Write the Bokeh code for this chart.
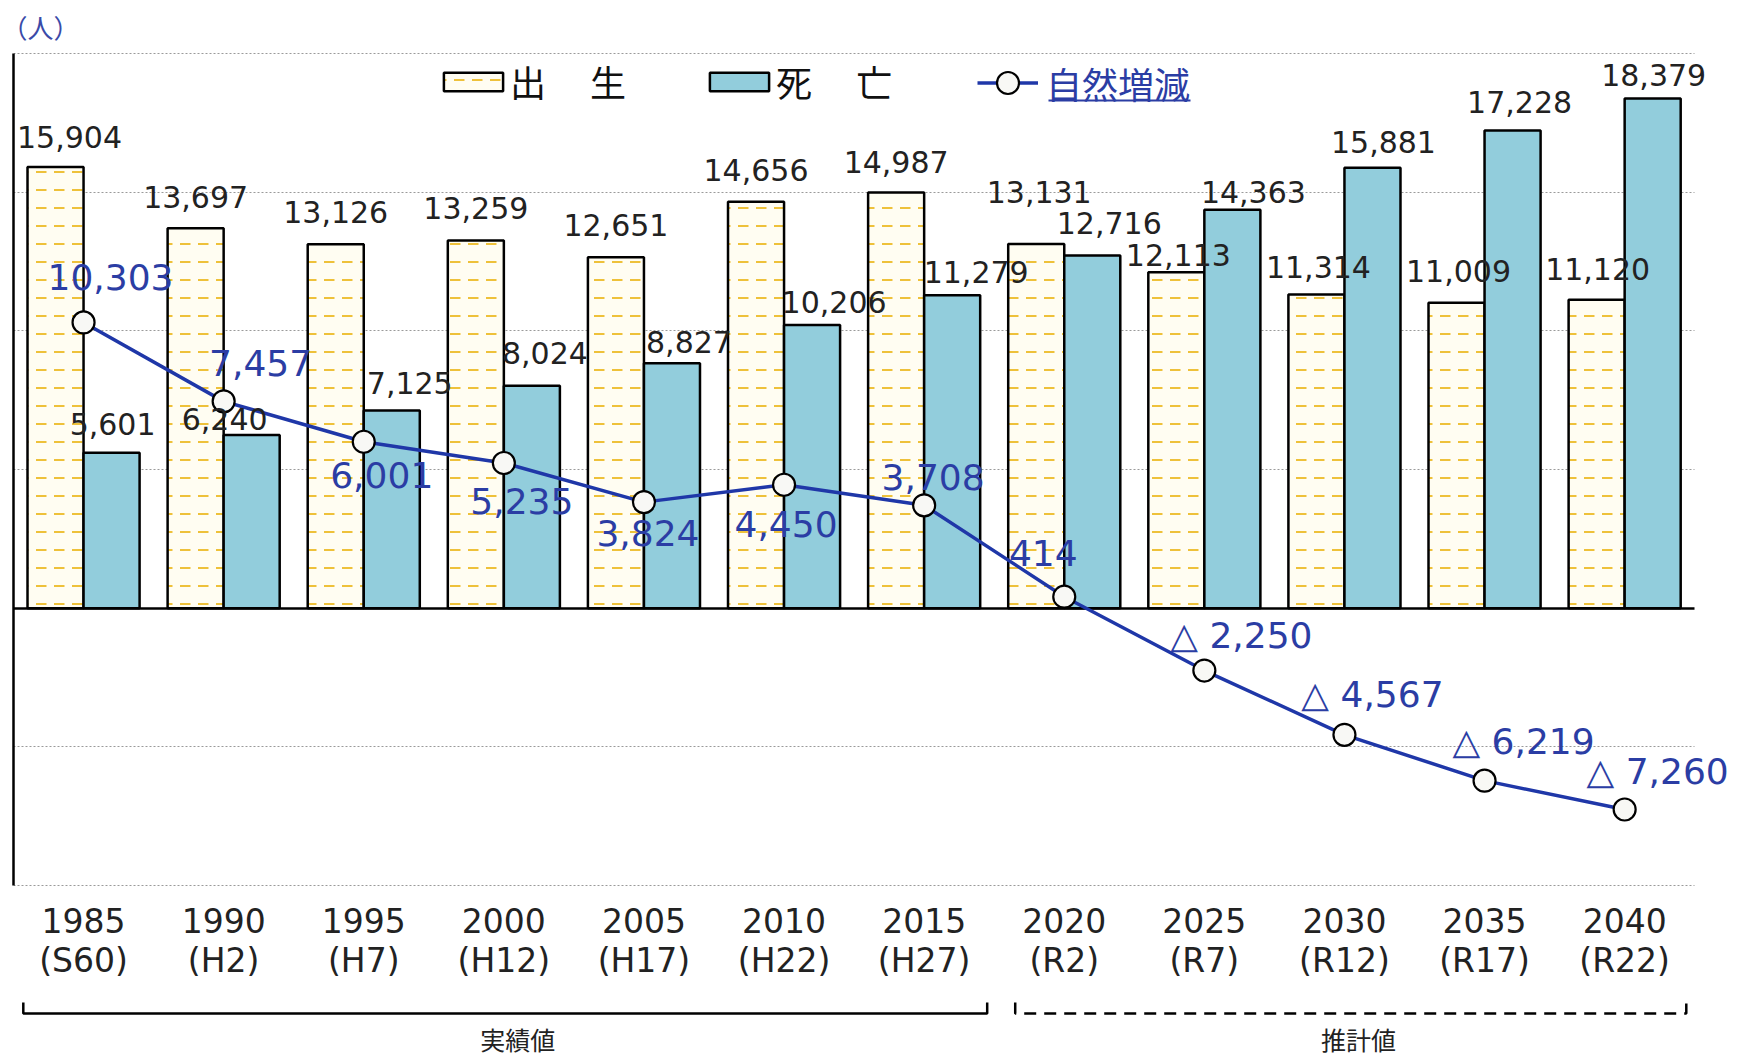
from bokeh.plotting import figure
from bokeh.layouts import column
from bokeh.models import (Range1d, ColumnDataSource, LabelSet, Legend, LegendItem,
                          FixedTicker, Grid, BoxAnnotation)
from bokeh.core.properties import value
from bokeh.embed import file_html
from bokeh.resources import INLINE

# ---------------- data ----------------
years = ["1985", "1990", "1995", "2000", "2005", "2010", "2015",
         "2020", "2025", "2030", "2035", "2040"]
eras = ["S60", "H2", "H7", "H12", "H17", "H22", "H27",
        "R2", "R7", "R12", "R17", "R22"]
birth = [15904, 13697, 13126, 13259, 12651, 14656, 14987,
         13131, 12113, 11314, 11009, 11120]
death = [5601, 6240, 7125, 8024, 8827, 10206, 11279,
         12716, 14363, 15881, 17228, 18379]
natural = [10303, 7457, 6001, 5235, 3824, 4450, 3708,
           414, -2250, -4567, -6219, -7260]
grid_ticks = [-10000, -5000, 5000, 10000, 15000, 20000]
n_actual = 7  # 1985-2015 actual values, 2020-2040 estimates

# label placement (pixels)
birth_dx = [14, 0, 0, 0, 0, 0, 0, 3, 2, 2, 2, 1]
birth_dy = [30, 31, 32, 32, 32, 32, 31, 52, 17, 27, 32, 31]
death_dx = [1, -27, 18, 13, 17, 22, 24, 17, 21, 11, 7, 1]
death_dy = [29, 16, 28, 33, 21, 23, 23, 33, 18, 26, 28, 23]
nat_dx = [27, 37, 18, 18, 4, 2, 9, -21, 37, 28, 39, 33]
nat_dy = [45, 38, -33, -38, -31, -39, 28, 44, 35, 40, 39, 38]

xs = list(range(len(years)))
tick_labels = {i: f"{y}\n({e})" for i, (y, e) in enumerate(zip(years, eras))}

def fmt_nat(v):
    return f"△ {abs(v):,}" if v < 0 else f"{v:,}"

BAR_W = 0.4
src = ColumnDataSource(dict(
    x=xs, xb=[i - BAR_W / 2 for i in xs], xd=[i + BAR_W / 2 for i in xs],
    birth=birth, death=death, natural=natural,
    btxt=[f"{v:,}" for v in birth], dtxt=[f"{v:,}" for v in death],
    ntxt=[fmt_nat(v) for v in natural],
    bdx=birth_dx, bdy=birth_dy, ddx=death_dx, ddy=death_dy, ndx=nat_dx, ndy=nat_dy,
))

BLUE_LINE = "#1f37a8"
BLUE_TXT = "#2b3da4"
NUM_FONT = "DejaVu Sans"
JP_FONT = "Noto Sans CJK JP"

# geometry: one category = 140.1 px, frame starts at the left axis
CAT_PX = 140.1
FRAME_W = 1726
FRAME_H = 838
x_end = -0.5 + FRAME_W / CAT_PX
y_pad = 30000 / 832 * 3

p = figure(x_range=Range1d(-0.5, x_end), y_range=Range1d(-10000 - y_pad, 20000 + y_pad),
           frame_width=FRAME_W, frame_height=FRAME_H,
           min_border_left=13, min_border_right=0, min_border_top=50, min_border_bottom=107,
           output_backend="svg", toolbar_location=None)
p.outline_line_color = None
p.background_fill_color = "white"
p.border_fill_color = "white"

# title used as unit label
p.title.text = "（人）"
p.title.text_font = JP_FONT
p.title.text_font_size = "26px"
p.title.text_font_style = "normal"
p.title.text_color = "#3a4aa8"
p.title.align = "left"
p.title.offset = -12
p.title.standoff = 11

# y axis: only the line
p.yaxis.ticker = FixedTicker(ticks=[])
p.yaxis.minor_tick_line_color = None
p.yaxis.major_tick_line_color = None
p.yaxis.major_tick_out = 0
p.yaxis.axis_line_color = "black"
p.yaxis.axis_line_width = 2.5
p.yaxis.bounds = (-10000, 20000)

# x axis
p.xaxis.ticker = FixedTicker(ticks=xs)
p.xaxis.major_label_overrides = tick_labels
p.xaxis.axis_line_color = None
p.xaxis.major_tick_line_color = None
p.xaxis.minor_tick_line_color = None
p.xaxis.major_tick_out = 0
p.xaxis.major_tick_in = 0
p.xaxis.major_label_standoff = 13
p.xaxis.major_label_text_font = NUM_FONT
p.xaxis.major_label_text_font_size = "33px"
p.xaxis.major_label_text_color = "#222222"
p.xaxis.major_label_text_line_height = 1.02

p.xgrid.visible = False
p.ygrid.ticker = FixedTicker(ticks=grid_ticks)
p.ygrid.grid_line_color = "#9a9a9a"
p.ygrid.grid_line_dash = "2 2"
p.ygrid.grid_line_width = 1
zero_grid = Grid(dimension=1, ticker=FixedTicker(ticks=[0]),
                 grid_line_color="black", grid_line_width=2.5)
p.add_layout(zero_grid)
for g in (p.ygrid[0], zero_grid):
    g.cross_bounds = (-0.5, len(years) - 0.5)

# bars
rb = p.vbar(x="xb", top="birth", bottom=0, width=BAR_W, source=src,
            fill_color="#fffdf2", hatch_pattern="horizontal_dash", hatch_color="#eec13a",
            hatch_scale=18, hatch_weight=2, line_color="black", line_width=2.5)
rd = p.vbar(x="xd", top="death", bottom=0, width=BAR_W, source=src,
            fill_color="#92cddc", line_color="black", line_width=2.5)

# natural change line
rl = p.line("x", "natural", source=src, line_color=BLUE_LINE, line_width=3.5)
rs = p.scatter("x", "natural", source=src, marker="circle", size=22,
               fill_color="#f8f8f5", line_color="black", line_width=2.2)

# value labels
p.add_layout(LabelSet(x="xb", y="birth", text="btxt", source=src,
                      x_offset="bdx", y_offset="bdy", text_align="center", text_baseline="middle",
                      text_font=value(NUM_FONT), text_font_size="30px", text_color="#222222"))
p.add_layout(LabelSet(x="xd", y="death", text="dtxt", source=src,
                      x_offset="ddx", y_offset="ddy", text_align="center", text_baseline="middle",
                      text_font=value(NUM_FONT), text_font_size="30px", text_color="#222222"))
p.add_layout(LabelSet(x="x", y="natural", text="ntxt", source=src,
                      x_offset="ndx", y_offset="ndy", text_align="center", text_baseline="middle",
                      text_font=value(NUM_FONT), text_font_size="36px", text_color=BLUE_TXT))

# legends
leg1 = Legend(items=[LegendItem(label="出　 生", renderers=[rb]),
                     LegendItem(label="死　 亡", renderers=[rd])],
              orientation="horizontal", location=(423, 781),
              border_line_color=None, background_fill_alpha=0, padding=0, margin=0,
              spacing=76, glyph_width=74, glyph_height=23, label_standoff=0,
              label_text_font=JP_FONT, label_text_font_size="36px", label_text_color="#111111")
leg2 = Legend(items=[LegendItem(label="自然増減", renderers=[rl, rs])],
              orientation="horizontal", location=(964, 778),
              border_line_color=None, background_fill_alpha=0, padding=0, margin=0,
              glyph_width=61, glyph_height=55, label_standoff=8,
              label_text_font=JP_FONT, label_text_font_size="36px", label_text_color=BLUE_TXT)
p.add_layout(leg1)
p.add_layout(leg2)
p.add_layout(BoxAnnotation(left=1035, right=1177, bottom=787, top=789,
                           left_units="screen", right_units="screen",
                           bottom_units="screen", top_units="screen",
                           fill_color=BLUE_TXT, fill_alpha=1, line_color=None))

# ---------------- brackets below the axis ----------------
p2 = figure(x_range=p.x_range, y_range=Range1d(63, 0),
            frame_width=FRAME_W, frame_height=63,
            min_border_left=13, min_border_right=0, min_border_top=0, min_border_bottom=0,
            output_backend="svg", toolbar_location=None)
p2.xaxis.visible = False
p2.yaxis.visible = False
p2.xgrid.visible = False
p2.ygrid.visible = False
p2.outline_line_color = None
p2.background_fill_color = "white"
p2.border_fill_color = "white"

groups = [("実績値", 0, n_actual - 1, 0.07, 0.05, "solid"),
          ("推計値", n_actual, len(years) - 1, 0.15, 0.06, "12 8")]
for name, i0, i1, in_l, in_r, dash in groups:
    l = i0 - 0.5 + in_l
    r = i1 + 0.5 - in_r
    p2.line([l, l, r, r], [7, 18, 18, 7], line_color="black", line_width=2.5, line_dash=dash)
    p2.text(x=[(i0 + i1) / 2], y=[43], text=[name], x_offset=14,
            text_align="center", text_baseline="middle",
            text_font=value(JP_FONT), text_font_size="25px", text_color="#222222")

layout = column(p, p2, spacing=0)
open("out.html", "w").write(file_html(layout, INLINE))
